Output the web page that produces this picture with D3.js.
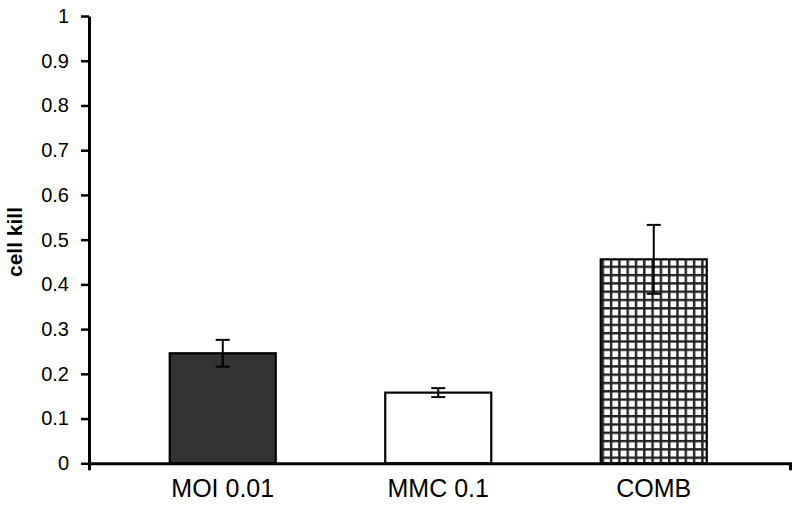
<!DOCTYPE html>
<html>
<head>
<meta charset="utf-8">
<script src="https://cdn.jsdelivr.net/npm/d3@7"></script>
<style>
  html, body { margin: 0; padding: 0; background: #ffffff; }
  svg { display: block; font-family: "Liberation Sans", Arial, sans-serif; }
</style>
</head>
<body>
<svg id="chart" width="800" height="508"></svg>
<script>
const categories = ["MOI 0.01", "MMC 0.1", "COMB"];
const values = [0.246, 0.158, 0.456];
const errors = [0.030, 0.010, 0.077];
const fills = ["#333333", "#ffffff", "url(#grid)"];
const yTicks = [0, 0.1, 0.2, 0.3, 0.4, 0.5, 0.6, 0.7, 0.8, 0.9, 1];
const yTitle = "cell kill";

const svg = d3.select("#chart");

const defs = svg.append("defs");
const pat = defs.append("pattern")
  .attr("id", "grid")
  .attr("patternUnits", "userSpaceOnUse")
  .attr("width", 8.3).attr("height", 8.3)
  .attr("patternTransform", "translate(170,0)");
pat.append("rect").attr("width", 8.3).attr("height", 8.3).attr("fill", "#ffffff");
pat.append("rect").attr("x", 0).attr("y", 0).attr("width", 2.4).attr("height", 8.3).attr("fill", "#222222");
pat.append("rect").attr("x", 0).attr("y", 0).attr("width", 8.3).attr("height", 2.4).attr("fill", "#222222");

const y = d3.scaleLinear().domain([0, 1]).range([463.3, 16]);
const x = d3.scaleBand().domain(categories).range([115, 761.5])
  .paddingInner(0.508).paddingOuter(0.254);
const frame = d3.scaleLinear().domain([0, 1]).range([89, 790]);

// bars
svg.append("g").selectAll("rect")
  .data(categories)
  .join("rect")
  .attr("x", d => x(d))
  .attr("y", (d, i) => y(values[i]))
  .attr("width", x.bandwidth())
  .attr("height", (d, i) => y(0) - y(values[i]))
  .attr("fill", (d, i) => fills[i])
  .attr("stroke", "#000")
  .attr("stroke-width", 2.2);

// error bars
const eg = svg.append("g").attr("stroke", "#000").attr("stroke-width", 2);
categories.forEach((c, i) => {
  const cx = x(c) + x.bandwidth() / 2;
  const top = y(values[i] + errors[i]);
  const bot = y(values[i] - errors[i]);
  eg.append("line").attr("x1", cx).attr("x2", cx).attr("y1", top).attr("y2", bot);
  eg.append("line").attr("x1", cx - 7).attr("x2", cx + 7).attr("y1", top).attr("y2", top);
  eg.append("line").attr("x1", cx - 7).attr("x2", cx + 7).attr("y1", bot).attr("y2", bot);
});

// y axis
const yAxis = svg.append("g")
  .attr("transform", "translate(89,0)")
  .call(d3.axisLeft(y).tickValues(yTicks).tickFormat(d3.format("~g"))
    .tickSize(8).tickSizeOuter(0).tickPadding(12));
yAxis.select(".domain").attr("stroke-width", 3);
yAxis.selectAll(".tick line").attr("stroke-width", 2.5);
yAxis.selectAll("text").attr("font-size", 20).attr("fill", "#000")
  .attr("font-family", "'Liberation Sans', Arial, sans-serif");

// x axis frame line with end ticks
const xFrame = svg.append("g")
  .attr("transform", "translate(0,463.3)")
  .call(d3.axisBottom(frame).tickValues([]).tickSizeOuter(7));
xFrame.select(".domain").attr("stroke-width", 3);

// x category labels
const xAxis = svg.append("g")
  .attr("transform", "translate(0,463.3)")
  .call(d3.axisBottom(x).tickSize(0).tickPadding(16));
xAxis.select(".domain").remove();
xAxis.selectAll("text").attr("font-size", 25).attr("fill", "#000")
  .attr("font-family", "'Liberation Sans', Arial, sans-serif");

// y title
svg.append("text")
  .attr("transform", "translate(22,242) rotate(-90)")
  .attr("text-anchor", "middle")
  .attr("font-size", 21)
  .attr("font-weight", "bold")
  .attr("fill", "#000")
  .text(yTitle);
</script>
</body>
</html>
